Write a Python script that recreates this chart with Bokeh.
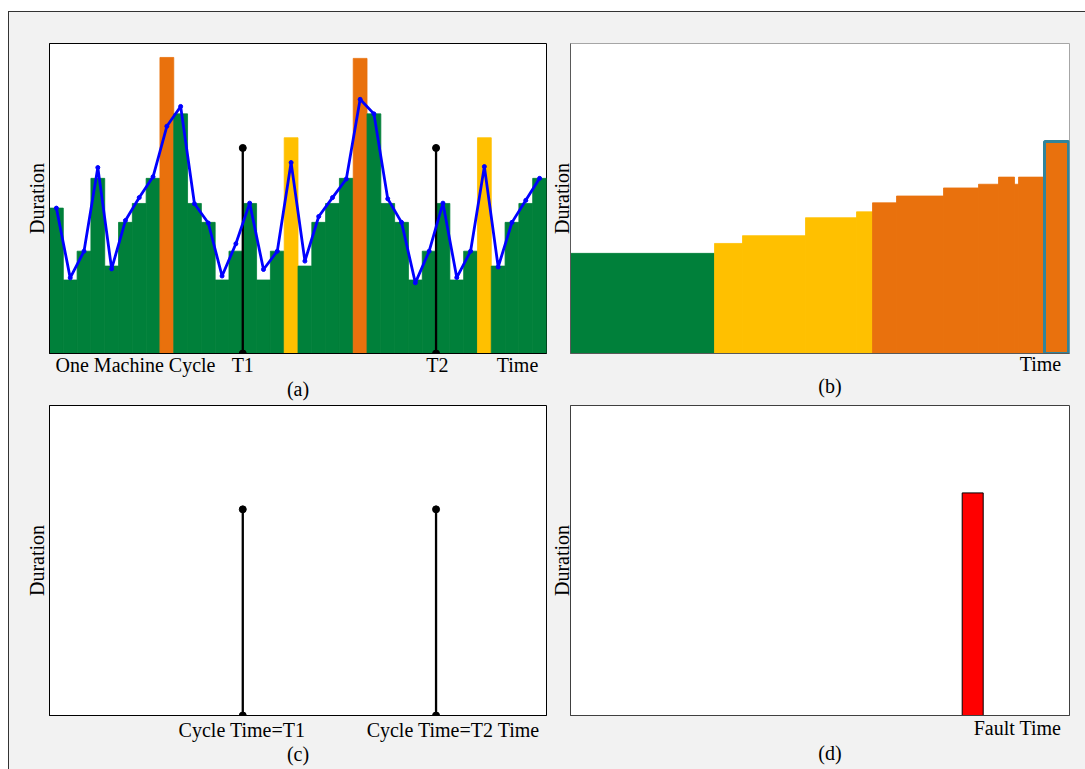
from bokeh.plotting import figure
from bokeh.models import Range1d, FixedTicker, CustomJSTickFormatter
from bokeh.layouts import row, column
from bokeh.embed import file_html
from bokeh.resources import INLINE

FONT = "Liberation Serif"
FS = "20px"
GREEN = "#00803A"
ORANGE = "#E9710D"
YELLOW = "#FFC000"
TEAL = "#31849B"

# ---------------- data ----------------
# (a) one bar per machine step, heights in % of axis height
a_heights = [46.9, 23.7, 33.0, 56.5, 28.2, 42.3, 48.4, 56.5, 95.5, 77.3, 48.4, 42.3,
             23.7, 33.0, 48.4, 23.7, 33.0, 69.6, 28.2, 42.3, 48.4, 56.5, 95.2, 77.3,
             48.4, 42.3, 23.7, 33.0, 48.4, 23.7, 33.0, 69.6, 28.2, 42.3, 48.4, 56.5]
a_kind = ["G", "G", "G", "G", "G", "G", "G", "G", "O", "G", "G", "G",
          "G", "G", "G", "G", "G", "Y", "G", "G", "G", "G", "O", "G",
          "G", "G", "G", "G", "G", "G", "G", "Y", "G", "G", "G", "G"]
a_line = [46.9, 24.4, 33.0, 60.0, 27.3, 42.9, 50.3, 57.0, 73.3, 79.7, 48.3, 42.1,
          25.0, 35.4, 48.5, 27.1, 33.0, 61.6, 29.8, 44.2, 50.3, 56.3, 82.0, 77.3,
          49.9, 42.3, 22.8, 33.0, 48.5, 24.5, 33.0, 60.3, 27.9, 42.3, 49.4, 56.5]
cycle_x = [14, 28]
cycle_top_a = [66.3, 66.3]
a_tick_pos = [6.23, 14.0, 28.1, 33.9]
a_tick_labels = ["One Machine Cycle", "T1", "T2", "Time"]

# (b) sorted durations (step bars)
b_edges = [0, 144, 172, 235, 286, 302, 326, 373, 408, 428, 444, 448, 474, 498]
b_heights = [32.3, 35.5, 38.0, 43.8, 45.7, 48.6, 50.8, 53.4, 54.6, 56.9, 54.6, 56.9, 68.4]
b_kind = ["G", "Y", "Y", "Y", "Y", "O", "O", "O", "O", "O", "O", "O", "O"]
b_tick_pos = [470]
b_tick_labels = ["Time"]

# (c) cycle times
cycle_top_c = [66.5, 66.5]
c_tick_pos = [13.94, 27.56, 33.97]
c_tick_labels = ["Cycle Time=T1", "Cycle Time=T2", "Time"]

# (d) fault
d_left = [391.7]
d_right = [412.7]
d_top = [71.8]
d_tick_pos = [447]
d_tick_labels = ["Fault Time"]

captions = ["(a)", "\u00a0\u00a0\u00a0\u00a0(b)", "(c)", "\u00a0\u00a0\u00a0\u00a0(d)"]

cmap = {"G": GREEN, "O": ORANGE, "Y": YELLOW}


def style(p, ticks, labels, outline, axcol, tick_standoff, caption, cap_standoff,
          y_standoff, y_line_height=1.2):
    p.background_fill_color = "white"
    p.border_fill_color = "#f2f2f2"
    p.outline_line_color = outline
    p.outline_line_width = 1
    p.grid.visible = False
    xa = p.xaxis[0]
    ya = p.yaxis[0]
    xa.ticker = FixedTicker(ticks=ticks)
    xa.formatter = CustomJSTickFormatter(args=dict(labels=labels), code="return labels[index];")
    for ax in (xa, ya):
        ax.axis_line_color = axcol
        ax.major_tick_line_color = None
        ax.minor_tick_line_color = None
        ax.major_tick_out = 0
        ax.major_tick_in = 0
        ax.minor_tick_out = 0
        ax.major_label_text_font = FONT
        ax.major_label_text_font_size = FS
        ax.major_label_text_color = "black"
        ax.axis_label_text_font = FONT
        ax.axis_label_text_font_size = FS
        ax.axis_label_text_font_style = "normal"
        ax.axis_label_text_color = "black"
    ya.ticker = FixedTicker(ticks=[])
    ya.axis_label = "Duration"
    ya.axis_label_standoff = y_standoff
    ya.axis_label_text_line_height = y_line_height
    ya.major_label_standoff = 0
    xa.major_label_standoff = tick_standoff
    xa.axis_label = caption
    xa.axis_label_standoff = cap_standoff


# ---------------- (a) ----------------
pa = figure(width=538, height=392, output_backend="svg", toolbar_location=None,
            x_range=Range1d(0, len(a_heights)), y_range=Range1d(0, 100),
            min_border_left=40, min_border_right=1, min_border_top=29, min_border_bottom=51)
centers = [i + 0.5 for i in range(len(a_heights))]
a_cols = [cmap[k] for k in a_kind]
pa.vbar(x=centers, width=1, top=a_heights, bottom=0,
        fill_color=a_cols, line_color=a_cols, line_width=0.8)
pa.segment(x0=cycle_x, y0=[0, 0], x1=cycle_x, y1=cycle_top_a, line_color="black", line_width=2.3)
pa.scatter(x=cycle_x + cycle_x, y=[0, 0] + cycle_top_a, size=7, color="black")
pa.line(x=centers, y=a_line, line_color="#0000FF", line_width=2.8)
pa.scatter(x=centers, y=a_line, size=4, color="#0000FF")
style(pa, a_tick_pos, a_tick_labels, "black", "black", 0, captions[0], -1, 2)

# ---------------- (b) ----------------
pb = figure(width=538, height=392, output_backend="svg", toolbar_location=None,
            x_range=Range1d(0, 499), y_range=Range1d(0, 100),
            min_border_left=23, min_border_right=16, min_border_top=31, min_border_bottom=48)
b_cols = [cmap[k] for k in b_kind]
pb.quad(left=b_edges[:-1], right=b_edges[1:], bottom=0, top=b_heights,
        fill_color=b_cols, line_color=b_cols, line_width=0.8)
pb.quad(left=[b_edges[-2]], right=[b_edges[-1]], bottom=[0], top=[b_heights[-1]],
        fill_color=None, line_color=TEAL, line_width=3)
style(pb, b_tick_pos, b_tick_labels, "#a6a6a6", "#595959", -1, captions[1], -3, -2, 1.0)

# ---------------- (c) ----------------
pc = figure(width=538, height=365, output_backend="svg", toolbar_location=None,
            x_range=Range1d(0, len(a_heights)), y_range=Range1d(0, 100),
            min_border_left=40, min_border_right=1, min_border_top=1, min_border_bottom=54)
pc.segment(x0=cycle_x, y0=[0, 0], x1=cycle_x, y1=cycle_top_c, line_color="black", line_width=2.3)
pc.scatter(x=cycle_x + cycle_x, y=[0, 0] + cycle_top_c, size=7, color="black")
style(pc, c_tick_pos, c_tick_labels, "black", "black", 3, captions[2], -1, 2)

# ---------------- (d) ----------------
pd_ = figure(width=538, height=365, output_backend="svg", toolbar_location=None,
             x_range=Range1d(0, 499), y_range=Range1d(0, 100),
             min_border_left=23, min_border_right=16, min_border_top=1, min_border_bottom=53)
pd_.quad(left=d_left, right=d_right, bottom=0, top=d_top,
         fill_color="#FF0000", line_color="black", line_width=1)
style(pd_, d_tick_pos, d_tick_labels, "#404040", "#404040", 1, captions[3], 0, -2, 1.0)

layout = column(row(pa, pb), row(pc, pd_),
                styles={"border-left": "1px solid #333333", "border-top": "1px solid #333333",
                        "margin-left": "8px", "margin-top": "11px",
                        "background-color": "#f2f2f2"})

open("out.html", "w").write(file_html(layout, INLINE))
